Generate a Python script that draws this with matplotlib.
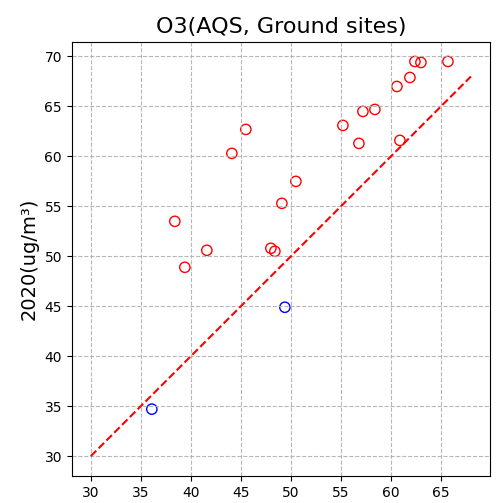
import numpy as np
import matplotlib
matplotlib.use('Agg')
import matplotlib.pyplot as plt

# 2019 vs 2020 O3 at ground sites
x_up = [38.4, 39.4, 41.6, 44.1, 45.5, 48.0, 48.4, 49.1, 50.5, 55.2, 56.8, 57.2,
        58.4, 60.6, 60.9, 61.9, 62.4, 63.0, 65.7]
y_up = [53.5, 48.9, 50.6, 60.3, 62.7, 50.8, 50.5, 55.3, 57.5, 63.1, 61.3, 64.5,
        64.7, 67.0, 61.6, 67.9, 69.5, 69.4, 69.5]
x_down = [36.1, 49.4]
y_down = [34.7, 44.9]
line_x = [30, 68]

fig = plt.figure(figsize=(5.02, 5.03), dpi=100)
ax = fig.add_axes([0.143, 0.054, 0.833, 0.863])

ax.plot(line_x, line_x, 'r--', lw=1.5)
ax.scatter(x_up, y_up, s=55, facecolors='none', edgecolors='red', linewidths=1)
ax.scatter(x_down, y_down, s=55, facecolors='none', edgecolors='blue', linewidths=1)

ax.set_xticks(np.arange(30, 70, 5))
ax.set_yticks(np.arange(30, 75, 5))
ax.grid(True, linestyle='--', color='#b0b0b0', alpha=0.9)
ax.set_title('O3(AQS, Ground sites)', fontsize=16)
ax.set_ylabel('2020(ug/m³)', fontsize=14)

fig.savefig('out.png', dpi=100)
